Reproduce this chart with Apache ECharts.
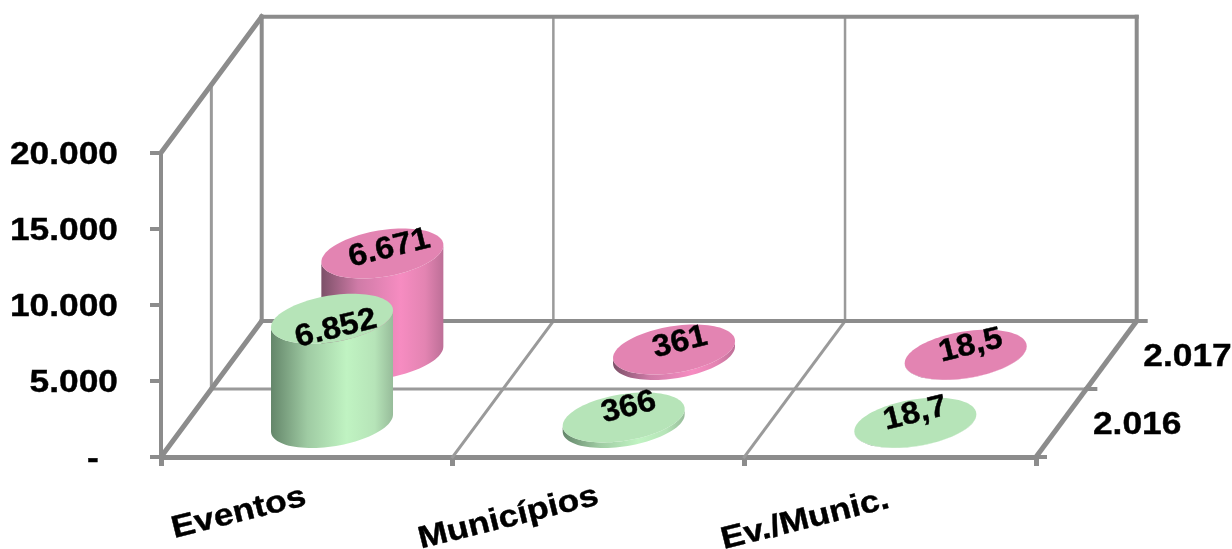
<!DOCTYPE html>
<html>
<head>
<meta charset="utf-8">
<style>html,body{margin:0;padding:0;background:#fff}#chart{width:1232px;height:549px}</style>
<script src="https://cdn.jsdelivr.net/npm/echarts@6/dist/echarts.min.js"></script>
</head>
<body>
<div id="chart"></div>
<script>
// Chart values
const categories = ['Eventos', 'Municípios', 'Ev./Munic.'];
const values2016 = [6852, 366, 18.7];
const values2017 = [6671, 361, 18.5];
const valueTicks = [0, 5000, 10000, 15000, 20000];
const depthSeries = ['2.016', '2.017'];

// Oblique projection of the floor depth, in pixels
const DEPTH_X = 100.7;
const DEPTH_Y = -136;
const FONT = '"Liberation Sans", Arial, sans-serif';
const TILT = 14 * Math.PI / 180;

// Cylinder cross-section: half width, half height, skew of the ellipse
const RX = 61, RY = 23.5, SKEW = 8.5;

const formatValue = v => {
  if (v === 0) return '-';
  if (!Number.isInteger(v)) return String(v).replace('.', ',');
  return String(v).replace(/\B(?=(\d{3})+$)/g, '.');
};

// Maps a band position, a value and a floor depth (0 front, 1 back) to pixels
function project(api, edge, value, depth) {
  const band = api.size([1, 0])[0];
  const p = api.coord([0, value]);
  return [p[0] - band / 2 + edge * band + depth * DEPTH_X, p[1] + depth * DEPTH_Y];
}

function label(text, x, y, size, stretch, rotation, align) {
  return {
    type: 'text', x, y, rotation: rotation || 0, scaleX: stretch, silent: true, z2: 50,
    style: {
      text, font: 'bold ' + size + 'px ' + FONT, fill: '#000',
      stroke: '#000', lineWidth: 0.4,
      align: align || 'center', verticalAlign: 'middle'
    }
  };
}

// Walls and floor of the box
function renderFrame(params, api) {
  const seg = (a, b, w, c) => ({
    type: 'line', silent: true,
    shape: { x1: a[0], y1: a[1], x2: b[0], y2: b[1] },
    style: { stroke: c || '#8c8c8c', lineWidth: w, lineCap: 'square' }
  });
  const P = (e, v, d) => project(api, e, v, d);
  const top = valueTicks[valueTicks.length - 1];
  const end = categories.length;
  const thin = '#9a9a9a';
  const children = [
    seg(P(0, 0, 0.5), P(0, top, 0.5), 3, thin),
    seg(P(0, 0, 0.5), P(end, 0, 0.5), 3, thin)
  ];
  for (let e = 1; e < end; e++) {
    children.push(seg(P(e, 0, 1), P(e, top, 1), 2.5, thin));
    children.push(seg(P(e, 0, 0), P(e, 0, 1), 3, thin));
  }
  children.push(
    seg(P(0, top, 0), P(0, top, 1), 5),
    seg(P(0, 0, 0), P(0, 0, 1), 5),
    seg(P(end, 0, 0), P(end, 0, 1), 5),
    seg(P(0, top, 1), P(end, top, 1), 4),
    seg(P(0, 0, 1), P(end, 0, 1), 4),
    seg(P(0, 0, 1), P(0, top, 1), 4),
    seg(P(end, 0, 1), P(end, top, 1), 4)
  );
  // Depth-axis ticks on the right edge
  [0, 0.5, 1].forEach(d => {
    const a = P(end, 0, d);
    children.push(seg(a, [a[0] + 9, a[1]], 4));
  });
  return { type: 'group', children };
}

function ellipsePoint(cx, cy, t) {
  return [cx + RX * Math.cos(t), cy - SKEW * Math.cos(t) + RY * Math.sin(t)];
}

function cylinderRenderer(depth, colors, nudges) {
  return function (params, api) {
    const idx = api.value(0), val = api.value(1);
    const base = project(api, idx + 0.5, 0, depth);
    const head = project(api, idx + 0.5, val, depth);
    const N = 48;
    const outline = [];
    for (let i = 0; i <= N; i++) outline.push(ellipsePoint(head[0], head[1], Math.PI * (1 - i / N)));
    for (let i = 0; i <= N; i++) outline.push(ellipsePoint(base[0], base[1], Math.PI * i / N));
    const cap = [];
    for (let i = 0; i < 2 * N; i++) cap.push(ellipsePoint(head[0], head[1], Math.PI * i / N));
    const n = nudges[idx];
    return {
      type: 'group',
      children: [
        { type: 'polygon', silent: true, shape: { points: outline },
          style: { fill: new echarts.graphic.LinearGradient(0, 0, 1, 0, colors.body) } },
        { type: 'polygon', silent: true, shape: { points: cap }, style: { fill: colors.cap } },
        label(formatValue(val), head[0] + n[0], head[1] + n[1], 31, 1.07, TILT)
      ]
    };
  };
}

const green = {
  cap: '#b6e4b8',
  body: [
    { offset: 0, color: '#64866a' }, { offset: 0.3, color: '#9fcba3' },
    { offset: 0.62, color: '#c0f3c2' }, { offset: 0.85, color: '#b6e4b8' }, { offset: 1, color: '#97bc9a' }
  ]
};
const pink = {
  cap: '#e384b2',
  body: [
    { offset: 0, color: '#7c5068' }, { offset: 0.3, color: '#cf7ba7' },
    { offset: 0.65, color: '#f68cc1' }, { offset: 0.85, color: '#e384b2' }, { offset: 1, color: '#bd6f97' }
  ]
};

// Label offsets from the centre of each cylinder's top
const nudges2016 = [[4, 10], [5, -10], [0, -9]];
const nudges2017 = [[7, -5], [6, -7], [5, -9]];
// Category label offsets from the centre of each band
const categoryNudges = [[-68, 56], [-90, 61], [-85, 63]];

const pairs = arr => arr.map((v, i) => [i, v]);

const option = {
  animation: false,
  backgroundColor: '#fff',
  grid: { left: 161, top: 152.7, width: 875, height: 304.3 },
  xAxis: {
    type: 'category', data: categories,
    axisLine: { lineStyle: { color: '#8c8c8c', width: 5 } },
    axisTick: { show: true, alignWithLabel: false, length: 9, lineStyle: { color: '#8c8c8c', width: 5 } },
    axisLabel: { show: false }, splitLine: { show: false }
  },
  yAxis: {
    type: 'value', min: 0, max: 20000, interval: 5000,
    axisLine: { show: true, lineStyle: { color: '#8c8c8c', width: 4 } },
    axisTick: { show: true, length: 11, lineStyle: { color: '#8c8c8c', width: 4 } },
    axisLabel: { show: false }, splitLine: { show: false }
  },
  series: [
    { type: 'custom', name: 'frame', z: 1, silent: true, clip: false, data: [[0, 0]], renderItem: renderFrame },
    { type: 'custom', name: depthSeries[1], z: 2, silent: true, clip: false, data: pairs(values2017),
      encode: { x: 0, y: 1 }, renderItem: cylinderRenderer(0.75, pink, nudges2017) },
    { type: 'custom', name: depthSeries[0], z: 3, silent: true, clip: false, data: pairs(values2016),
      encode: { x: 0, y: 1 }, renderItem: cylinderRenderer(0.25, green, nudges2016) },
    { type: 'custom', name: 'valueTicks', z: 4, silent: true, clip: false, data: valueTicks.map(v => [0, v]),
      renderItem(params, api) {
        const v = api.value(1);
        const p = project(api, 0, v, 0);
        return v === 0
          ? label(formatValue(v), p[0] - 68, p[1] + 2.5, 31, 1.14)
          : label(formatValue(v), p[0] - 43, p[1] + 2.5, 31, 1.14, 0, 'right');
      } },
    { type: 'custom', name: 'categoryLabels', z: 4, silent: true, clip: false, data: categories.map((c, i) => [i, 0]),
      renderItem(params, api) {
        const i = api.value(0);
        const p = project(api, i + 0.5, 0, 0);
        const n = categoryNudges[i];
        return label(categories[i], p[0] + n[0], p[1] + n[1], 31, 1.14, TILT);
      } },
    { type: 'custom', name: 'depthLabels', z: 4, silent: true, clip: false, data: depthSeries.map((c, i) => [i, 0]),
      renderItem(params, api) {
        const i = api.value(0);
        const p = project(api, categories.length, 0, i ? 0.75 : 0.25);
        return label(depthSeries[i], p[0] + 76, p[1] + 2, 31, 1.14);
      } }
  ]
};

echarts.init(document.getElementById('chart'), null, { renderer: 'canvas' }).setOption(option);
</script>
</body>
</html>
